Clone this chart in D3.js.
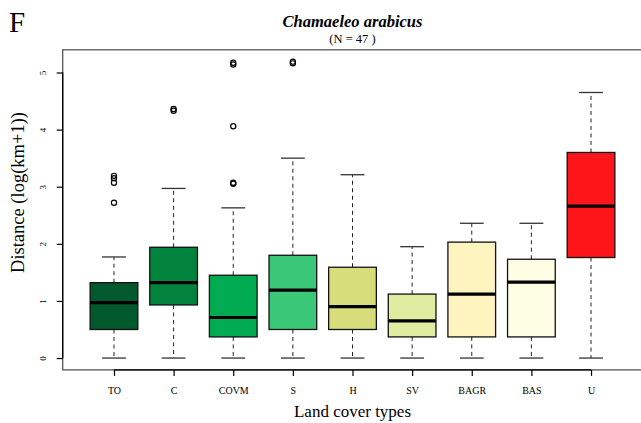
<!DOCTYPE html>
<html lang="en">
<head>
    <meta charset="UTF-8" />
    <title>Chamaeleo arabicus - distance by land cover type</title>
    <script src="https://d3js.org/d3.v7.min.js"></script>
    <style>
        body { margin: 0; background: #fff; }
        svg { display: block; }
        svg text { font-family: "Liberation Serif", "Times New Roman", "DejaVu Serif", serif; }
    </style>
</head>
<body>
    <script>
        // box plot summaries (log(km+1))
        var categories = ["TO", "C", "COVM", "S", "H", "SV", "BAGR", "BAS", "U"];
        var lowerWhisker = [0, 0, 0, 0, 0, 0, 0, 0, 0];
        var q1 = [0.50, 0.93, 0.37, 0.50, 0.50, 0.37, 0.37, 0.37, 1.76];
        var medians = [0.97, 1.32, 0.71, 1.19, 0.90, 0.65, 1.12, 1.33, 2.66];
        var q3 = [1.32, 1.94, 1.45, 1.80, 1.59, 1.12, 2.03, 1.73, 3.60];
        var upperWhisker = [1.77, 2.97, 2.63, 3.50, 3.21, 1.95, 2.36, 2.36, 4.65];
        var outliers = [
            [3.19, 3.15, 3.07, 2.72],
            [4.36, 4.33],
            [5.17, 5.14, 4.06, 3.07, 3.05],
            [5.19, 5.16],
            [], [], [], [], []
        ];
        var yTicks = [0, 1, 2, 3, 4, 5];
        var boxColors = ["#03592e", "#02843e", "#00ab52", "#3ac878", "#d6dd7a",
            "#e0eda1", "#fef4c0", "#fefee4", "#fe151a"];

        var w = 641;
        var h = 423;

        var dataset = categories.map(function (c, i) {
            return {
                cat: c, pos: i + 1, lo: lowerWhisker[i], q1: q1[i], med: medians[i],
                q3: q3[i], hi: upperWhisker[i], out: outliers[i]
            };
        });

        // R style axis ranges: data range widened by 4% on each side
        var allVals = d3.merge(dataset.map(function (d) { return [d.lo, d.hi].concat(d.out); }));
        var yMin = d3.min(allVals), yMax = d3.max(allVals);
        var yPad = (yMax - yMin) * 0.04;
        var xPad = categories.length * 0.04;

        var plotL = 62.7, plotR = 642.3, plotT = 49.8, plotB = 369.9;

        var xScale = d3.scaleLinear()
            .domain([0.5 - xPad, categories.length + 0.5 + xPad])
            .range([plotL, plotR]);

        var yScale = d3.scaleLinear()
            .domain([yMin - yPad, yMax + yPad])
            .range([plotB, plotT]);

        var boxW = xScale(1.4) - xScale(0.6);
        var capW = boxW / 2;

        var svg = d3.select("body")
            .append("svg")
            .attr("width", w)
            .attr("height", h);

        // plot frame
        svg.append("rect")
            .attr("x", plotL)
            .attr("y", plotT)
            .attr("width", plotR - plotL)
            .attr("height", plotB - plotT)
            .attr("fill", "none")
            .attr("stroke", "#555")
            .attr("stroke-width", 1.3);

        var boxes = svg.selectAll("g.box")
            .data(dataset)
            .enter()
            .append("g")
            .attr("class", "box");

        // dashed whiskers
        boxes.append("line")
            .attr("x1", function (d) { return xScale(d.pos); })
            .attr("x2", function (d) { return xScale(d.pos); })
            .attr("y1", function (d) { return yScale(d.q3); })
            .attr("y2", function (d) { return yScale(d.hi); })
            .attr("stroke", "#222")
            .attr("stroke-dasharray", "4,3.5");

        boxes.append("line")
            .attr("x1", function (d) { return xScale(d.pos); })
            .attr("x2", function (d) { return xScale(d.pos); })
            .attr("y1", function (d) { return yScale(d.q1); })
            .attr("y2", function (d) { return yScale(d.lo); })
            .attr("stroke", "#222")
            .attr("stroke-dasharray", "4,3.5");

        // staples
        ["hi", "lo"].forEach(function (k) {
            boxes.append("line")
                .attr("x1", function (d) { return xScale(d.pos) - capW / 2; })
                .attr("x2", function (d) { return xScale(d.pos) + capW / 2; })
                .attr("y1", function (d) { return yScale(d[k]); })
                .attr("y2", function (d) { return yScale(d[k]); })
                .attr("stroke", "#333")
                .attr("stroke-width", 1.3);
        });

        boxes.append("rect")
            .attr("x", function (d) { return xScale(d.pos) - boxW / 2; })
            .attr("y", function (d) { return yScale(d.q3); })
            .attr("width", boxW)
            .attr("height", function (d) { return yScale(d.q1) - yScale(d.q3); })
            .attr("fill", function (d, i) { return boxColors[i]; })
            .attr("stroke", "#111")
            .attr("stroke-width", 1.3);

        boxes.append("line")
            .attr("x1", function (d) { return xScale(d.pos) - boxW / 2; })
            .attr("x2", function (d) { return xScale(d.pos) + boxW / 2; })
            .attr("y1", function (d) { return yScale(d.med); })
            .attr("y2", function (d) { return yScale(d.med); })
            .attr("stroke", "#000")
            .attr("stroke-width", 3.2);

        boxes.selectAll("circle")
            .data(function (d) { return d.out.map(function (v) { return { pos: d.pos, v: v }; }); })
            .enter()
            .append("circle")
            .attr("cx", function (d) { return xScale(d.pos); })
            .attr("cy", function (d) { return yScale(d.v); })
            .attr("r", 2.6)
            .attr("fill", "none")
            .attr("stroke", "#000")
            .attr("stroke-width", 1.2);

        // axes
        var xAxis = d3.axisBottom(xScale)
            .tickValues(dataset.map(function (d) { return d.pos; }))
            .tickFormat(function (d) { return categories[d - 1]; })
            .tickSize(6)
            .tickSizeOuter(0)
            .tickPadding(11);

        var yAxis = d3.axisLeft(yScale)
            .tickValues(yTicks)
            .tickFormat(d3.format("d"))
            .tickSize(6)
            .tickSizeOuter(0);

        var gx = svg.append("g").attr("class", "x axis")
            .attr("transform", "translate(0," + plotB + ")")
            .call(xAxis);
        gx.select(".domain").remove();
        gx.append("line")
            .attr("x1", xScale(1)).attr("x2", xScale(categories.length))
            .attr("stroke", "#000").attr("stroke-width", 1.3);
        gx.selectAll(".tick line").attr("stroke", "#000").attr("stroke-width", 1.2);
        gx.selectAll("text")
            .attr("fill", "#000")
            .style("font-family", "Liberation Serif")
            .style("font-size", "10px");

        var gy = svg.append("g").attr("class", "y axis")
            .attr("transform", "translate(" + plotL + ",0)")
            .call(yAxis);
        gy.select(".domain").remove();
        gy.append("line")
            .attr("y1", yScale(0)).attr("y2", yScale(5))
            .attr("stroke", "#000").attr("stroke-width", 1.3);
        gy.selectAll(".tick line").attr("stroke", "#000").attr("stroke-width", 1.2);
        gy.selectAll("text")
            .attr("x", 0)
            .attr("dy", 0)
            .attr("text-anchor", "middle")
            .attr("transform", "translate(-17,0) rotate(-90)")
            .attr("fill", "#000")
            .style("font-family", "Liberation Serif")
            .style("font-size", "9px");

        // titles
        svg.append("text")
            .attr("x", 9).attr("y", 32)
            .attr("font-size", "29px")
            .text("F");

        svg.append("text")
            .attr("x", (plotL + plotR) / 2).attr("y", 27)
            .attr("text-anchor", "middle")
            .style("font-family", "'Liberation Serif', 'Times New Roman', serif")
            .style("font-size", "16.5px")
            .style("font-weight", "bold")
            .style("font-style", "italic")
            .text("Chamaeleo arabicus");

        svg.append("text")
            .attr("x", (plotL + plotR) / 2).attr("y", 43)
            .attr("text-anchor", "middle")
            .attr("font-size", "12.5px")
            .text("(N = 47 )");

        svg.append("text")
            .attr("x", (plotL + plotR) / 2).attr("y", 417)
            .attr("text-anchor", "middle")
            .attr("font-size", "17px")
            .text("Land cover types");

        svg.append("text")
            .attr("transform", "translate(24,192.5) rotate(-90)")
            .attr("text-anchor", "middle")
            .attr("font-size", "18.5px")
            .text("Distance (log(km+1))");
    </script>
</body>
</html>
